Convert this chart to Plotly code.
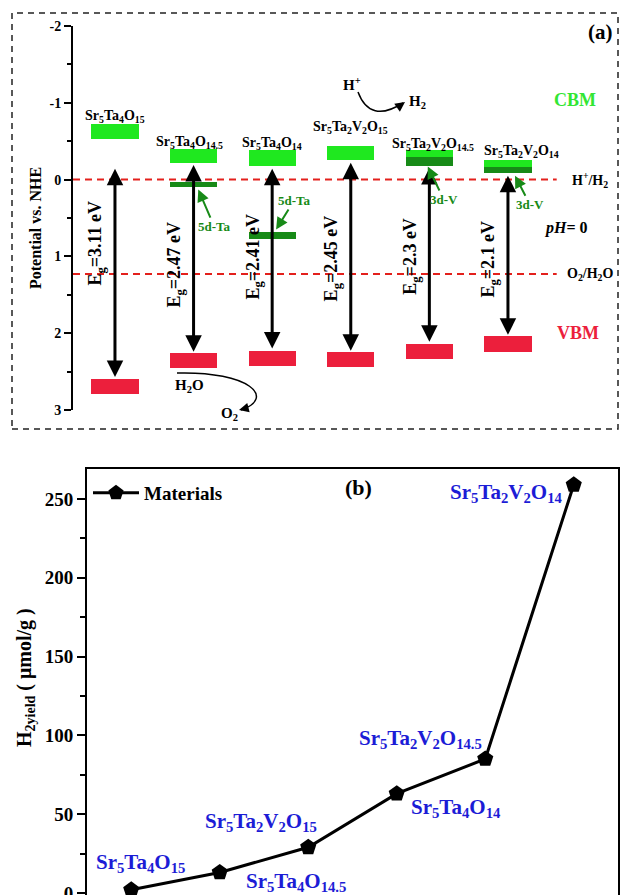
import plotly.graph_objects as go

W, H = 622, 895


def fx(p):
    return p / W


def fy(p):
    return 1 - p / H


SERIF = "Liberation Serif"
LIME = "#1fe81f"
DKGREEN = "#178a17"
RED = "#ec1f3c"
BLUE = "#1c1cd6"

# ---------------- Panel (a) data ----------------
columns = [0, 1, 2, 3, 4, 5]
compounds_a = [
    "Sr<sub>5</sub>Ta<sub>4</sub>O<sub>15</sub>",
    "Sr<sub>5</sub>Ta<sub>4</sub>O<sub>14.5</sub>",
    "Sr<sub>5</sub>Ta<sub>4</sub>O<sub>14</sub>",
    "Sr<sub>5</sub>Ta<sub>2</sub>V<sub>2</sub>O<sub>15</sub>",
    "Sr<sub>5</sub>Ta<sub>2</sub>V<sub>2</sub>O<sub>14.5</sub>",
    "Sr<sub>5</sub>Ta<sub>2</sub>V<sub>2</sub>O<sub>14</sub>",
]
cbm_top = [-0.73, -0.40, -0.38, -0.44, -0.38, -0.26]
cbm_bottom = [-0.53, -0.21, -0.18, -0.25, -0.18, -0.08]
vbm_top = [2.59, 2.26, 2.23, 2.24, 2.14, 2.03]
vbm_bottom = [2.79, 2.45, 2.43, 2.44, 2.33, 2.24]
gap_energy = ["3.11", "2.47", "2.41", "2.45", "2.3", "2.1"]
arrow_top = [-0.16, -0.21, -0.16, -0.24, -0.17, -0.07]
arrow_bottom = [2.57, 2.24, 2.20, 2.23, 2.11, 2.02]
defect_cols = [1, 2, 4, 5]
defect_top = [0.03, 0.68, -0.29, -0.17]
defect_bottom = [0.10, 0.77, -0.18, -0.08]
defect_names = ["5d-Ta", "5d-Ta", "3d-V", "3d-V"]
redox_levels = [0.0, 1.23]
redox_names = ["H<sup>+</sup>/H<sub>2</sub>", "O<sub>2</sub>/H<sub>2</sub>O"]
pot_ticks = [-2, -1, 0, 1, 2, 3]
pot_ticktext = ["-2", "-1", "0", "1", "2", "3"]

# ---------------- Panel (b) data ----------------
points = [1, 2, 3, 4, 5, 6]
h2_yield = [2, 13, 29, 63, 85, 259]
materials_b = [
    "Sr<sub>5</sub>Ta<sub>4</sub>O<sub>15</sub>",
    "Sr<sub>5</sub>Ta<sub>2</sub>V<sub>2</sub>O<sub>15</sub>",
    "Sr<sub>5</sub>Ta<sub>4</sub>O<sub>14.5</sub>",
    "Sr<sub>5</sub>Ta<sub>4</sub>O<sub>14</sub>",
    "Sr<sub>5</sub>Ta<sub>2</sub>V<sub>2</sub>O<sub>14.5</sub>",
    "Sr<sub>5</sub>Ta<sub>2</sub>V<sub>2</sub>O<sub>14</sub>",
]
yield_ticks = [0, 50, 100, 150, 200, 250]

# ---------------- layout helpers (positions only) ----------------
BAR_W = 0.6
a_label_y = [-0.82, -0.48, -0.47, -0.68, -0.46, -0.37]
a_label_xshift = [0, -4, 0, 0, 4, 14]
eg_label_y = [0.82, 1.10, 1.00, 1.03, 1.00, 1.03]
EG_DX = -0.23
defect_tip_dx = [0.06, 0.05, -0.02, 0.09]
defect_tip_y = [0.13, 0.65, -0.17, -0.05]
defect_ax = [16, 18, 16, 15]
defect_ay = [37, -29, 33, 29]
b_label_x = [1.10, 2.47, 2.86, 4.67, 4.27, 5.23]
b_label_y = [19, 45, 7, 54, 98, 254]

fig = go.Figure()

fig.add_trace(go.Bar(
    x=columns, base=cbm_top, y=[b - t for t, b in zip(cbm_top, cbm_bottom)],
    width=BAR_W, marker=dict(color=LIME, line=dict(width=0)),
    xaxis="x", yaxis="y", showlegend=False, hoverinfo="skip"))
fig.add_trace(go.Bar(
    x=defect_cols, base=defect_top, y=[b - t for t, b in zip(defect_top, defect_bottom)],
    width=BAR_W, marker=dict(color=DKGREEN, line=dict(width=0)),
    xaxis="x", yaxis="y", showlegend=False, hoverinfo="skip"))
fig.add_trace(go.Bar(
    x=columns, base=vbm_top, y=[b - t for t, b in zip(vbm_top, vbm_bottom)],
    width=BAR_W, marker=dict(color=RED, line=dict(width=0)),
    xaxis="x", yaxis="y", showlegend=False, hoverinfo="skip"))

XL, XR = -0.534, 5.62
for lvl in redox_levels:
    fig.add_trace(go.Scatter(
        x=[XL, XR], y=[lvl, lvl], mode="lines",
        line=dict(color="#e3201c", width=2, dash="7px,5px"),
        xaxis="x", yaxis="y", showlegend=False, hoverinfo="skip"))

fig.add_trace(go.Scatter(
    x=points, y=h2_yield, mode="lines+markers", name="Materials",
    line=dict(color="black", width=3),
    marker=dict(symbol="pentagon", size=17, color="black"),
    xaxis="x2", yaxis="y2", showlegend=True, hoverinfo="skip"))

ann = []


def bold_font(size, color="black", family=SERIF):
    return dict(family=family, size=size, color=color, weight="bold")


def label(**kw):
    kw.setdefault("xanchor", "center")
    kw.setdefault("yanchor", "middle")
    kw.setdefault("showarrow", False)
    return kw


for c, name, ly, xs in zip(columns, compounds_a, a_label_y, a_label_xshift):
    ann.append(label(x=c, y=ly, xref="x", yref="y", text=name,
                     xshift=xs, font=bold_font(14)))

for c, t, b, e, ey in zip(columns, arrow_top, arrow_bottom, gap_energy, eg_label_y):
    ann.append(dict(x=c, y=b, ax=c, ay=t, xref="x", yref="y", axref="x", ayref="y",
                    text="", showarrow=True, arrowhead=2, arrowside="end+start",
                    arrowsize=1.1, arrowwidth=3, arrowcolor="black", standoff=0,
                    startstandoff=0))
    ann.append(label(x=c + EG_DX, y=ey, xref="x", yref="y",
                     text="E<sub>g</sub>=" + e + " eV", textangle=-90,
                     font=bold_font(18)))

for c, dx, ty, name, axp, ayp in zip(defect_cols, defect_tip_dx, defect_tip_y,
                                     defect_names, defect_ax, defect_ay):
    ann.append(dict(x=c + dx, y=ty, xref="x", yref="y", ax=axp, ay=ayp,
                    text=name, showarrow=True, arrowhead=2, arrowsize=1.2,
                    arrowwidth=2, arrowcolor=DKGREEN, font=bold_font(13, DKGREEN)))

for lvl, name in zip(redox_levels, redox_names):
    ann.append(label(x=fx(590), y=lvl, xref="paper", yref="y", text=name,
                     font=bold_font(14)))

ann += [
    label(x=fx(566), y=fy(228), xref="paper", yref="paper", text="<i>pH</i>= 0",
          font=bold_font(16)),
    label(x=fx(575), y=fy(100), xref="paper", yref="paper", text="CBM",
          font=bold_font(18, "#33e633")),
    label(x=fx(578), y=fy(333), xref="paper", yref="paper", text="VBM",
          font=bold_font(18, RED)),
    label(x=fx(600), y=fy(32), xref="paper", yref="paper", text="(a)",
          font=bold_font(21)),
    label(x=fx(36), y=fy(228), xref="paper", yref="paper", text="Potential vs. NHE",
          textangle=-90, font=bold_font(16)),
    label(x=fx(352), y=fy(84), xref="paper", yref="paper", text="H<sup>+</sup>",
          font=bold_font(15)),
    label(x=fx(418), y=fy(102), xref="paper", yref="paper", text="H<sub>2</sub>",
          font=bold_font(15)),
    label(x=fx(189), y=fy(386), xref="paper", yref="paper", text="H<sub>2</sub>O",
          font=bold_font(15)),
    label(x=fx(229), y=fy(414), xref="paper", yref="paper", text="O<sub>2</sub>",
          font=bold_font(15)),
    dict(x=fx(405), y=fy(102), xref="paper", yref="paper", ax=-7, ay=5, text="",
         showarrow=True, arrowhead=2, arrowsize=1.3, arrowwidth=1.5, arrowcolor="black"),
    dict(x=fx(239), y=fy(410), xref="paper", yref="paper", ax=8, ay=-2, text="",
         showarrow=True, arrowhead=2, arrowsize=1.3, arrowwidth=1.5, arrowcolor="black"),
]

for name, lx, ly in zip(materials_b, b_label_x, b_label_y):
    ann.append(label(x=lx, y=ly, xref="x2", yref="y2", text=name,
                     font=bold_font(21, BLUE)))
ann += [
    label(x=fx(358), y=fy(487), xref="paper", yref="paper", text="(b)",
          font=bold_font(22)),
    label(x=fx(25), y=fy(678), xref="paper", yref="paper",
          text="H<sub>2yield</sub> ( μmol/g )", textangle=-90,
          font=bold_font(20)),
]

shapes = [
    dict(type="rect", xref="paper", yref="paper", x0=fx(12), x1=fx(618),
         y0=fy(429), y1=fy(13), line=dict(color="#222", width=1.5, dash="6px,5px")),
    dict(type="path", xref="paper", yref="paper",
         path=f"M {fx(358)},{fy(92)} Q {fx(370)},{fy(124)} {fx(403)},{fy(103)}",
         line=dict(color="black", width=1.5)),
    dict(type="path", xref="paper", yref="paper",
         path=f"M {fx(177)},{fy(373)} C {fx(250)},{fy(371)} {fx(276)},{fy(398)} {fx(241)},{fy(410)}",
         line=dict(color="black", width=1.5)),
]

fig.update_layout(
    width=W, height=H, margin=dict(l=0, r=0, t=0, b=0, autoexpand=False), autosize=False,
    paper_bgcolor="white", plot_bgcolor="rgba(0,0,0,0)",
    barmode="overlay", bargap=0,
    annotations=ann, shapes=shapes,
    xaxis=dict(domain=[fx(73), fx(618)], range=[-0.534, 6.4], visible=False,
               anchor="y", automargin=False),
    yaxis=dict(domain=[fy(410), fy(26)], range=[3, -2], anchor="x", automargin=False,
               tickmode="array", tickvals=pot_ticks, ticktext=pot_ticktext,
               showline=True, linecolor="black", linewidth=2,
               ticks="outside", ticklen=7, tickwidth=2, tickcolor="black",
               minor=dict(dtick=0.5, ticks="outside", ticklen=4, tickwidth=2,
                          tickcolor="black"),
               showgrid=False, zeroline=False,
               tickfont=bold_font(14)),
    xaxis2=dict(domain=[fx(87), fx(618)], range=[0.5, 6.5], anchor="y2", automargin=False,
                showline=True, mirror=True, linecolor="black", linewidth=2,
                showticklabels=False, ticks="", showgrid=False, zeroline=False),
    yaxis2=dict(domain=[0, fy(469)], range=[-1.3, 269], anchor="x2", automargin=False,
                tickmode="array", tickvals=yield_ticks, ticklabeloverflow="allow",
                showline=True, mirror=True, linecolor="black", linewidth=2,
                ticks="outside", ticklen=8, tickwidth=2, tickcolor="black",
                minor=dict(dtick=25, ticks="outside", ticklen=5, tickwidth=2,
                           tickcolor="black"),
                showgrid=False, zeroline=False,
                tickfont=bold_font(19)),
    legend=dict(x=fx(88), y=fy(474), xanchor="left", yanchor="top",
                bgcolor="rgba(0,0,0,0)", font=bold_font(19), itemwidth=46),
)

fig.write_html(
    "out.html",
    config={"responsive": False, "displayModeBar": False},
    post_script="document.body.style.margin='0';document.body.style.overflow='hidden';",
)
